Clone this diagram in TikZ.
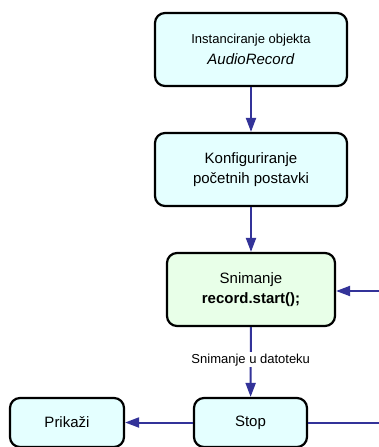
\documentclass[tikz,border=0pt]{standalone}
\usepackage{fontspec}
\setmainfont{Liberation Sans}
\usetikzlibrary{arrows.meta}
\definecolor{boxcyan}{HTML}{E4FFFF}
\definecolor{boxgreen}{HTML}{E8FFE8}
\definecolor{linkblue}{HTML}{333399}
\begin{document}
\begin{tikzpicture}[x=1pt,y=-1pt,
  box/.style={draw=black, line width=2.2pt, rounded corners=10pt, fill=boxcyan,
    minimum width=#1, minimum height=73pt, inner sep=0pt, align=center,
    font=\fontsize{15}{20.5}\selectfont},
  smallbox/.style={box=#1, minimum height=49pt},
  link/.style={draw=linkblue, line width=2pt, -{Triangle[length=14pt,width=10pt]}},
  plainlink/.style={draw=linkblue, line width=2pt},
  lbl/.style={fill=white, inner sep=1.5pt, font=\fontsize{13}{15}\selectfont},
]
\fill[white] (0,0) rectangle (379,447);
\useasboundingbox (0,0) rectangle (379,447);

\node[box=192pt] (inst) at (251,49.5)
  {{\fontsize{13}{20.5}\selectfont Instanciranje objekta}\\\textit{AudioRecord}};
\node[box=192pt] (conf) at (251,169.5)
  {Konfiguriranje\\početnih postavki};
\node[box=168pt, fill=boxgreen] (rec) at (251,289.5)
  {Snimanje\\\textbf{record.start();}};
\node[smallbox=113pt] (stop) at (250.5,422.5) {Stop};
\node[smallbox=114pt] (prik) at (67,422.5) {Prikaži};

\coordinate (rin) at (379,291);
\coordinate (rout) at (379,423);

\draw[link] (inst) -- (conf);
\draw[link] (conf) -- (rec);
\draw[link] (rec) -- (stop) node[lbl, pos=0.47] (lab) {Snimanje u datoteku};
\draw[link] (rin) -- (rin -| rec.east);
\draw[link] (stop) -- (prik);
\draw[plainlink] (stop.east) -- (stop.east -| rout);
\end{tikzpicture}
\end{document}
